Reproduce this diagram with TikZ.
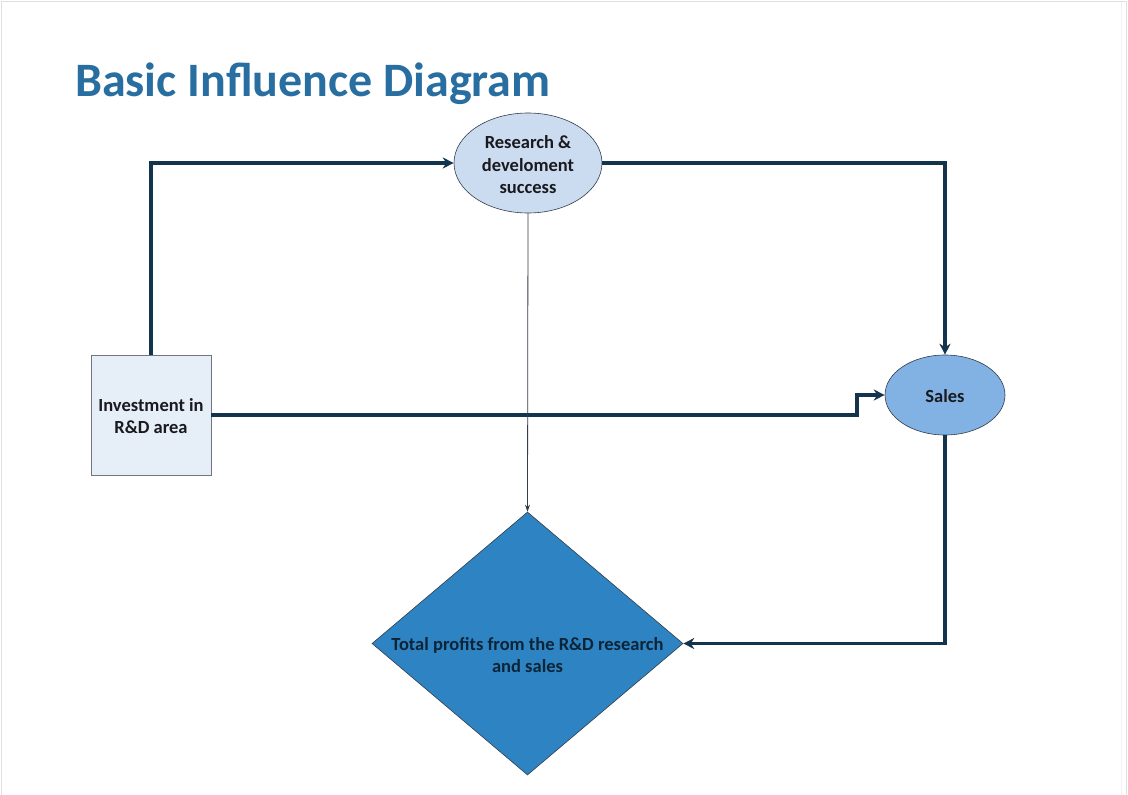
\documentclass[tikz,border=0pt]{standalone}
\usepackage{fontspec}
\setmainfont{Carlito}
\usetikzlibrary{shapes.geometric,arrows.meta}
\definecolor{titleblue}{RGB}{40,110,160}
\definecolor{conn}{RGB}{18,52,76}
\definecolor{rdfill}{RGB}{204,220,240}
\definecolor{invfill}{RGB}{230,238,248}
\definecolor{salesfill}{RGB}{130,178,228}
\definecolor{diafill}{RGB}{46,132,194}
\definecolor{edge}{RGB}{50,60,75}
\definecolor{txt}{RGB}{25,25,30}
\definecolor{diatxt}{RGB}{12,36,56}
\tikzset{
  lbl/.style={font=\fontsize{18.5}{22.5}\selectfont\bfseries, text=txt, align=center, inner sep=0pt},
  thickconn/.style={draw=conn, line width=3.5pt, -{Stealth[length=11pt,width=11pt]}},
  thinconn/.style={draw=edge, line width=0.8pt, -{Stealth[length=7pt,width=5pt]}},
}
\begin{document}
\begin{tikzpicture}[x=1pt,y=-1pt]
\useasboundingbox (0,0) rectangle (1128,795);
\fill[white] (0,0) rectangle (1128,795);
\draw[gray!25, line width=1pt] (1.5,800) -- (1.5,1.5) -- (1126,1.5) -- (1126,800);
\draw[gray!12, line width=1pt] (1121.5,1.5) -- (1121.5,800);
\node[anchor=base west, inner sep=0pt, font=\fontsize{48}{48}\selectfont\bfseries, text=titleblue] (title) at (75,96) {Basic Influence Diagram};

\node[ellipse, draw=edge, line width=0.6pt, fill=rdfill, minimum width=148pt, minimum height=100pt, inner sep=0pt] (rd) at (528,163) {};
\node[lbl, anchor=center] (rdt) at (528,165) {Research \&\\develoment\\success};

\node[rectangle, draw=edge!70, line width=0.8pt, fill=invfill, minimum width=120pt, minimum height=120pt, inner sep=0pt] (inv) at (151,415) {};
\node[lbl] (invt) at (151,416) {Investment in\\R\&D area};

\node[ellipse, draw=edge, line width=0.6pt, fill=salesfill, minimum width=120pt, minimum height=80pt, inner sep=0pt] (sales) at (945,395) {};
\node[lbl] (salest) at (945,396) {Sales};

\node[diamond, draw=edge, line width=0.6pt, fill=diafill, minimum width=311pt, minimum height=263pt, inner sep=0pt] (dia) at (527.5,643.5) {};
\node[lbl, text=diatxt] (diat) at (527.5,655) {Total profits from the R\&D research\\and sales};

\draw[thickconn] (inv.north) |- (rd.west);
\draw[thickconn] (rd.east) -| (sales.north);
\coordinate (step1) at (857,415);
\coordinate (step2) at (857,395);
\draw[thickconn] (inv.east) -- (step1) -- (step2) -- (sales.west);
\draw[thinconn] (rd.south) -- (dia.north);
\draw[thickconn] (sales.south) |- (dia.east);
\end{tikzpicture}
\end{document}
